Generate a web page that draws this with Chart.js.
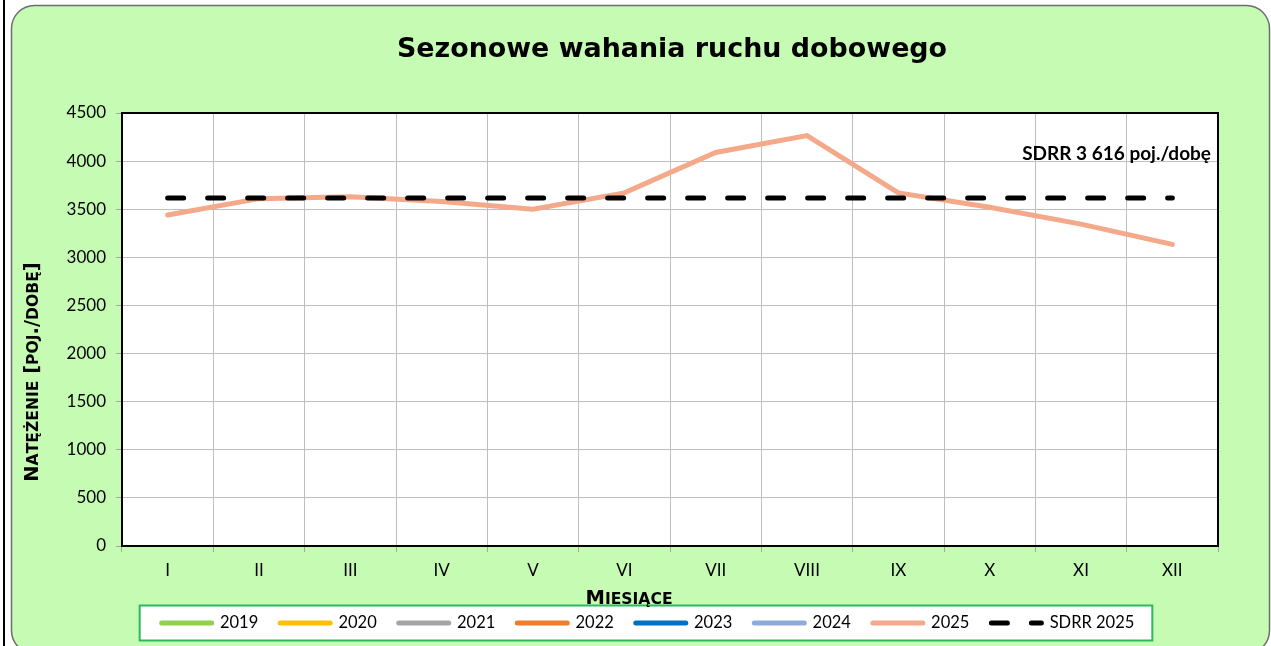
<!DOCTYPE html>
<html>
<head>
<meta charset="utf-8">
<script src="https://cdn.jsdelivr.net/npm/chart.js@4.4.1/dist/chart.umd.min.js"></script>
<style>
  html, body { margin: 0; padding: 0; background: #fff; }
  #wrap { width: 1271px; height: 646px; position: relative; }
</style>
</head>
<body>
<div id="wrap"><canvas id="seasonChart"></canvas></div>
<script>
// chart data
const months = ["I", "II", "III", "IV", "V", "VI", "VII", "VIII", "IX", "X", "XI", "XII"];
const seriesNames = ["2019", "2020", "2021", "2022", "2023", "2024", "2025"];
const seriesColors = ["#92D050", "#FFC000", "#A5A5A5", "#ED7D31", "#0070C0", "#8EA9DB", "#F4A98A"];
const values2019 = [];
const values2020 = [];
const values2021 = [];
const values2022 = [];
const values2023 = [];
const values2024 = [];
const values2025 = [3440, 3610, 3630, 3580, 3500, 3670, 4090, 4265, 3670, 3520, 3345, 3135];
const sdrrLabel = "SDRR 2025";
const sdrr2025 = [3616, 3616, 3616, 3616, 3616, 3616, 3616, 3616, 3616, 3616, 3616, 3616];
const yTicks = [0, 500, 1000, 1500, 2000, 2500, 3000, 3500, 4000, 4500];

const seriesValues = [values2019, values2020, values2021, values2022, values2023, values2024, values2025];

function drawSmallCaps(ctx, text, cx, cy, size) {
  // uppercase letters full size, lowercase shown as smaller capitals
  const parts = [];
  for (const ch of text) {
    const lower = ch !== ch.toUpperCase();
    parts.push({ ch: ch.toUpperCase(), size: lower ? size * 0.8 : size });
  }
  let total = 0;
  parts.forEach((p) => {
    ctx.font = "bold " + p.size + "px 'DejaVu Sans'";
    p.w = ctx.measureText(p.ch).width;
    total += p.w;
  });
  let x = cx - total / 2;
  const base = cy + size * 0.365;
  ctx.textAlign = "left";
  ctx.textBaseline = "alphabetic";
  parts.forEach((p) => {
    ctx.font = "bold " + p.size + "px 'DejaVu Sans'";
    ctx.fillText(p.ch, x, base);
    x += p.w;
  });
}

const framePlugin = {
  id: "frame",
  afterLayout(chart) {
    // legend sits a bit right of the full-width centre
    chart.legend.left += 32;
    chart.legend.right += 32;
  },
  beforeDraw(chart) {
    const ctx = chart.ctx;
    const area = chart.chartArea;
    ctx.save();
    ctx.fillStyle = "#000";
    ctx.fillRect(3, 0, 2, 646);
    ctx.beginPath();
    ctx.roundRect(11.5, 5.5, 1258, 648, 23);
    ctx.fillStyle = "#C6FBB4";
    ctx.fill();
    ctx.lineWidth = 1.5;
    ctx.strokeStyle = "#6E6E6E";
    ctx.stroke();
    ctx.fillStyle = "#fff";
    ctx.fillRect(area.left, area.top, area.right - area.left, area.bottom - area.top);
    const boxes = chart.legend.legendHitBoxes;
    if (boxes && boxes.length) {
      const first = boxes[0];
      const last = boxes[boxes.length - 1];
      const midY = first.top + first.height / 2;
      const x0 = first.left - 22;
      const x1 = last.left + last.width + 18;
      ctx.fillStyle = "#fff";
      ctx.fillRect(x0, midY - 17.5, x1 - x0, 35);
      ctx.lineWidth = 2;
      ctx.strokeStyle = "#2DB85F";
      ctx.strokeRect(x0, midY - 17.5, x1 - x0, 35);
    }
    ctx.restore();
  },
  afterDraw(chart) {
    const ctx = chart.ctx;
    const area = chart.chartArea;
    ctx.save();
    ctx.lineWidth = 2;
    ctx.strokeStyle = "#000";
    ctx.strokeRect(area.left, area.top, area.right - area.left, area.bottom - area.top);

    ctx.fillStyle = "#000";
    ctx.font = "bold 26.9px 'DejaVu Sans'";
    ctx.textAlign = "center";
    ctx.textBaseline = "alphabetic";
    ctx.fillText("Sezonowe wahania ruchu dobowego", 672, 57);

    ctx.font = "bold 19px Lato";
    ctx.textAlign = "right";
    ctx.fillText("SDRR 3 616 poj./dobę", 1211, 160);

    drawSmallCaps(ctx, "Miesiące", 629, 597, 19.5);

    ctx.translate(31, 372);
    ctx.rotate(-Math.PI / 2);
    drawSmallCaps(ctx, "Natężenie [poj./dobę]", 0, 0, 19.5);
    ctx.restore();
  }
};

const datasets = seriesNames.map((name, i) => ({
  label: name,
  data: seriesValues[i],
  borderColor: seriesColors[i],
  backgroundColor: seriesColors[i],
  borderWidth: 5,
  borderCapStyle: "round",
  pointRadius: 0,
  tension: 0,
  fill: false,
}));
datasets.push({
  label: sdrrLabel,
  data: sdrr2025,
  borderColor: "#000",
  backgroundColor: "#000",
  borderWidth: 5,
  borderDash: [16, 24],
  borderCapStyle: "round",
  pointRadius: 0,
  fill: false,
  order: -1,
});

new Chart(document.getElementById("seasonChart"), {
  type: "line",
  data: { labels: months, datasets: datasets },
  plugins: [framePlugin],
  options: {
    responsive: true,
    maintainAspectRatio: false,
    animation: false,
    layout: { padding: { left: 14, right: 53, top: 113, bottom: 4.75 } },
    plugins: {
      title: { display: false },
      legend: {
        position: "bottom",
        labels: {
          usePointStyle: true,
          pointStyle: "line",
          pointStyleWidth: 50,
          padding: 22,
          color: "#000",
          font: { family: "Lato", size: 16.5 },
          generateLabels: (chart) => chart.data.datasets.map((ds, i) => ({
            text: ds.label,
            datasetIndex: i,
            fillStyle: ds.borderColor,
            strokeStyle: ds.borderColor,
            fontColor: "#000",
            lineWidth: 5,
            lineCap: "round",
            lineDash: ds.borderDash || [],
            pointStyle: "line",
            hidden: false,
          })),
        },
      },
      tooltip: { enabled: false },
    },
    scales: {
      x: {
        offset: true,
        grid: { offset: true, color: "#BFBFBF", tickLength: 6, tickColor: "#A6A6A6" },
        border: { display: false },
        ticks: { color: "#000", font: { family: "Lato", size: 17 }, padding: 8 },
        afterFit(scale) { scale.height = 46.75; },
      },
      y: {
        min: 0,
        max: 4500,
        afterBuildTicks(scale) { scale.ticks = yTicks.map((v) => ({ value: v })); },
        grid: { color: "#BFBFBF", tickLength: 6, tickColor: "#A6A6A6" },
        border: { display: false },
        ticks: {
          color: "#000",
          font: { family: "Lato", size: 17 },
          padding: 10,
          callback: (v) => String(v),
        },
        afterFit(scale) { scale.width = 108; },
      },
    },
  },
});
</script>
</body>
</html>
